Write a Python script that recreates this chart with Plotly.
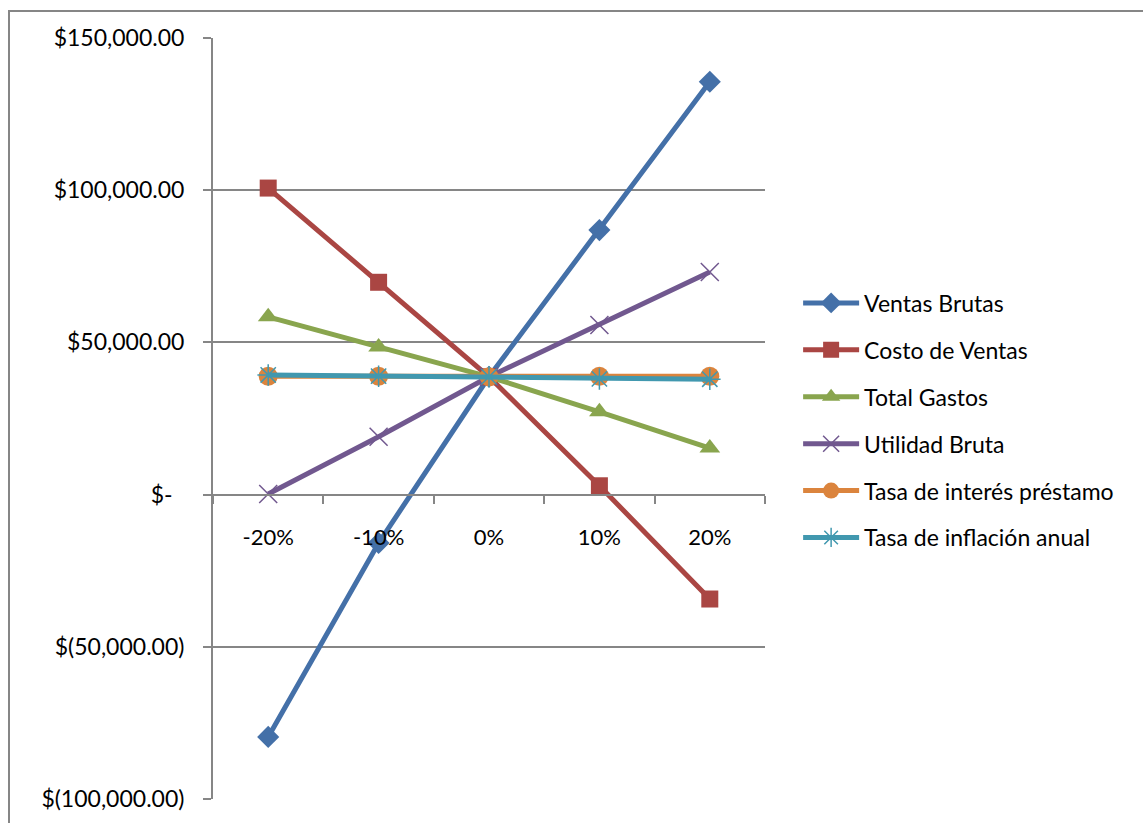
import plotly.graph_objects as go

# Sensitivity scenarios (category axis)
escenarios = ["-20%", "-10%", "0%", "10%", "20%"]

ventas_brutas = [-79600, -15900, 38700, 86900, 135650]
costo_ventas = [100700, 69750, 38700, 2900, -34300]
total_gastos = [58400, 48500, 38700, 27200, 15300]
utilidad_bruta = [200, 19000, 38700, 55700, 73100]
tasa_interes = [38900, 38900, 38700, 38900, 38900]
tasa_inflacion = [39300, 38900, 38700, 38000, 37900]

y_ticks = [-100000, -50000, 0, 50000, 100000, 150000]
y_tick_text = ["$(100,000.00)", "$(50,000.00)", "$-\u00a0\u00a0",
               "$50,000.00", "$100,000.00", "$150,000.00"]

series = [
    ("Ventas Brutas", ventas_brutas, "#4470A8", "diamond", 17, 0),
    ("Costo de Ventas", costo_ventas, "#AA4643", "square", 17, 0),
    ("Total Gastos", total_gastos, "#89A54E", "triangle-up", 18, 0),
    ("Utilidad Bruta", utilidad_bruta, "#71588F", "x-thin-open", 18, 1.5),
    ("Tasa de interés préstamo", tasa_interes, "#DB843D", "circle", 19, 0),
    ("Tasa de inflación anual", tasa_inflacion, "#4198AF", "asterisk-open", 18, 1.5),
]

FONT = "Lato, 'Open Sans', sans-serif"

fig = go.Figure()
for i, (name, vals, color, symbol, size, mlw) in enumerate(series):
    marker = dict(symbol=symbol, size=size, color=color)
    if mlw:
        marker["line"] = dict(color=color, width=mlw)
    else:
        marker["line"] = dict(width=0)
    fig.add_trace(go.Scatter(
        x=escenarios, y=vals, name=name, mode="lines+markers",
        line=dict(color=color, width=5),
        marker=marker, legendgroup=f"g{i}",
    ))

fig.update_layout(
    width=1143, height=823,
    margin=dict(l=213, r=378, t=38, b=24),
    paper_bgcolor="white", plot_bgcolor="white",
    font=dict(family=FONT, size=23, color="#000000"),
    showlegend=True,
    legend=dict(
        x=1.06, xanchor="left", y=0.68, yanchor="top",
        font=dict(family=FONT, size=23, color="#000000"),
        traceorder="grouped", tracegroupgap=14,
        itemwidth=56, bgcolor="rgba(0,0,0,0)",
    ),
    xaxis=dict(
        type="category", range=[-0.5, 4.5],
        anchor="free", position=0.4,
        showline=True, linecolor="#868686", linewidth=2,
        ticks="outside", tickson="boundaries", ticklen=8,
        tickcolor="#868686", tickwidth=2,
        showgrid=False, zeroline=False,
        tickfont=dict(family=FONT, size=22),
        ticklabelstandoff=23,
    ),
    yaxis=dict(
        range=[-100000, 150000],
        tickvals=y_ticks, ticktext=y_tick_text,
        showline=True, linecolor="#868686", linewidth=2,
        ticks="outside", ticklen=8, tickcolor="#868686", tickwidth=2,
        showgrid=True, gridcolor="#868686", gridwidth=2,
        zeroline=False,
        tickfont=dict(family=FONT, size=23),
        ticklabelstandoff=14,
    ),
    shapes=[dict(
        type="rect", xref="paper", yref="paper",
        x0=(9 - 213) / 552, x1=(1160 - 213) / 552,
        y0=(799 - 840) / 761, y1=(799 - 11) / 761,
        line=dict(color="#868686", width=2), fillcolor="rgba(0,0,0,0)",
        layer="below",
    )],
)

fig.write_html("out.html")
